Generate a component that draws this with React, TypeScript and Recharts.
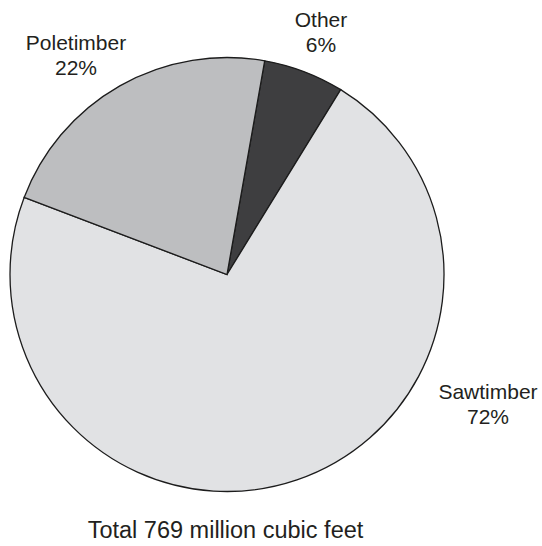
import { PieChart, Pie, Cell } from 'recharts'

// volume by size class, percent of total
const categories = ['Other', 'Sawtimber', 'Poletimber']
const shares = [6, 72, 22]
const shareLabels = ['6%', '72%', '22%']
const totalLabel = 'Total 769 million cubic feet'

const fills = ['#3e3e40', '#e1e2e4', '#bdbec0']
// label offsets from the pie centre (first line baseline)
const labelOffsets = [
  { dx: 94, dy: -247.5 },
  { dx: 261, dy: 124.5 },
  { dx: -151, dy: -224.5 },
]

const data = categories.map((name, i) => ({ name, value: shares[i], pct: shareLabels[i] }))

const FONT = '"Liberation Sans", Arial, Helvetica, sans-serif'

function SliceLabel({ cx, cy, index, name, payload }: any) {
  const off = labelOffsets[index]
  const x = cx + off.dx
  const y = cy + off.dy
  return (
    <text x={x} y={y} textAnchor="middle" fill="#231f20" fontSize={21} fontFamily={FONT}>
      <tspan x={x} y={y}>{name}</tspan>
      <tspan x={x} y={y + 25}>{payload.pct}</tspan>
    </text>
  )
}

export default function App() {
  return (
    <div style={{ position: 'absolute', left: 0, top: 0, width: 542, height: 546, background: '#fff' }}>
      <PieChart width={542} height={546} margin={{ top: 0, right: 0, bottom: 0, left: 0 }}>
        <Pie
          data={data}
          dataKey="value"
          nameKey="name"
          cx={227}
          cy={274.5}
          outerRadius={217}
          startAngle={80}
          endAngle={-280}
          stroke="#1c1c1c"
          strokeWidth={1.3}
          label={SliceLabel}
          labelLine={false}
          isAnimationActive={false}
        >
          {data.map((d, i) => <Cell key={d.name} fill={fills[i]} />)}
        </Pie>
      </PieChart>
      <div style={{
        position: 'absolute', left: 0, width: 451, top: 519, textAlign: 'center',
        fontFamily: FONT, fontSize: 23.5, lineHeight: '23.5px', color: '#231f20', whiteSpace: 'nowrap',
      }}>
        {totalLabel}
      </div>
    </div>
  )
}
